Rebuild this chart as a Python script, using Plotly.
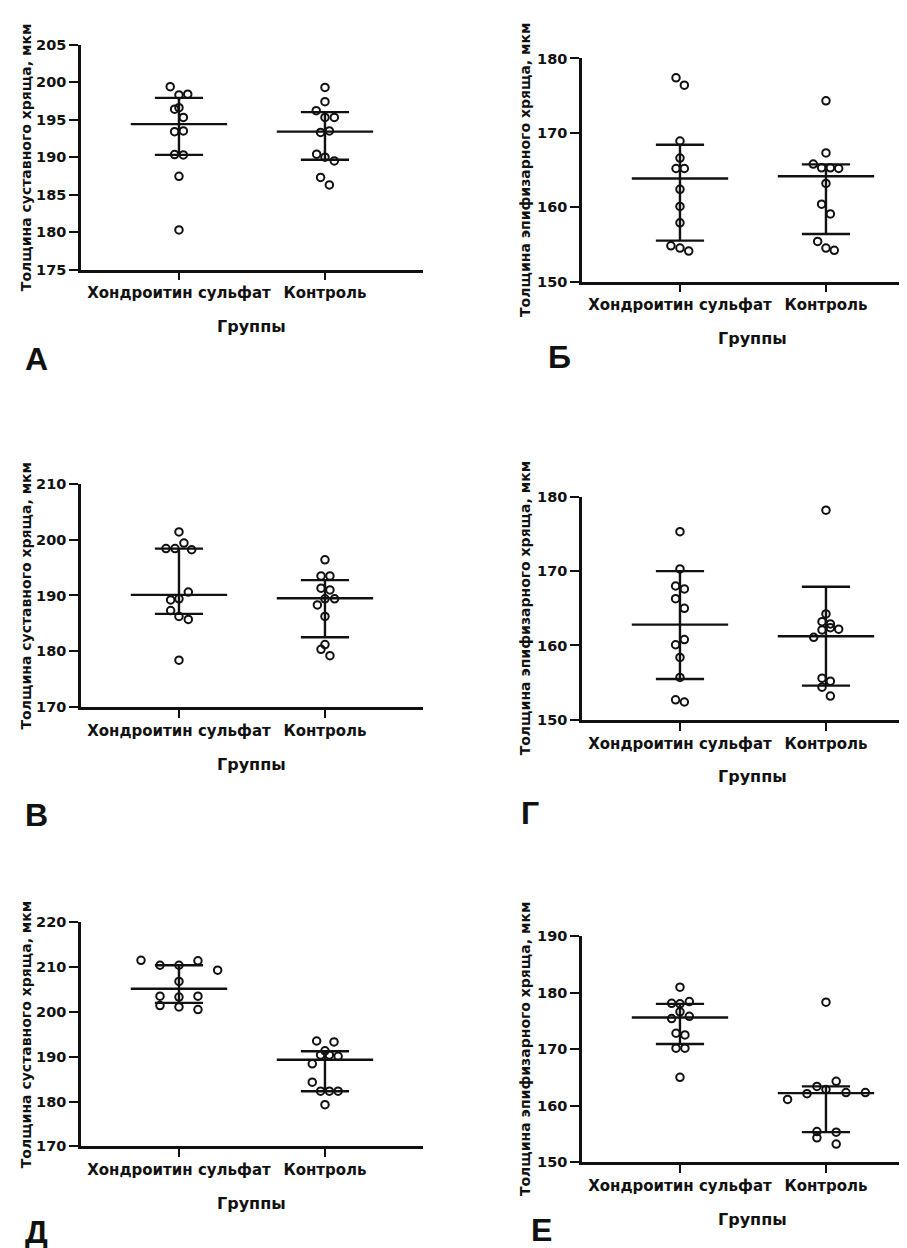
import plotly.graph_objects as go

W, H = 907, 1248

categories = ["Хондроитин сульфат", "Контроль"]
x_title = "Группы"
y_title_joint = "Толщина суставного хряща, мкм"
y_title_epi = "Толщина эпифизарного хряща, мкм"
panel_letters = ["А", "Б", "В", "Г", "Д", "Е"]

# ---- Panel А ----
a_chon = [199.4, 198.3, 198.4, 196.4, 196.6, 195.3, 193.4, 193.5, 190.35, 190.3, 187.45, 180.3]
a_ctrl = [199.3, 197.4, 196.2, 195.3, 195.3, 193.3, 193.5, 190.4, 190.0, 189.5, 187.3, 186.3]
a_median = [194.4, 193.4]
a_q1 = [190.3, 189.65]
a_q3 = [197.9, 196.0]
# ---- Panel Б ----
b_chon = [177.4, 176.4, 168.9, 166.6, 165.2, 165.2, 162.4, 160.1, 157.9, 154.8, 154.5, 154.1]
b_ctrl = [174.3, 167.3, 165.8, 165.3, 165.3, 165.2, 163.2, 160.4, 159.1, 155.4, 154.5, 154.2]
b_median = [163.85, 164.15]
b_q1 = [155.5, 156.4]
b_q3 = [168.4, 165.75]
# ---- Panel В ----
c_chon = [201.4, 198.4, 199.4, 198.4, 198.2, 190.6, 189.2, 189.4, 187.3, 186.25, 185.7, 178.4]
c_ctrl = [196.4, 193.5, 193.5, 191.3, 191.0, 189.4, 189.4, 188.3, 186.25, 180.35, 181.2, 179.2]
c_median = [190.1, 189.5]
c_q1 = [186.7, 182.5]
c_q3 = [198.4, 192.75]
# ---- Panel Г ----
d_chon = [175.3, 170.3, 168.0, 167.6, 166.3, 165.0, 160.8, 160.1, 158.4, 155.7, 152.7, 152.4]
d_ctrl = [178.2, 164.25, 163.2, 162.9, 162.1, 162.4, 162.2, 161.1, 155.6, 155.2, 154.4, 153.2]
d_median = [162.8, 161.25]
d_q1 = [155.5, 154.6]
d_q3 = [170.0, 167.9]
# ---- Panel Д ----
e_chon = [211.5, 210.4, 210.4, 211.4, 209.3, 206.8, 203.5, 203.3, 203.5, 201.4, 201.1, 200.5]
e_ctrl = [193.5, 193.3, 191.3, 190.4, 190.4, 190.1, 188.4, 184.3, 182.3, 182.3, 182.3, 179.3]
e_median = [205.15, 189.3]
e_q1 = [202.0, 182.3]
e_q3 = [210.4, 191.2]
# ---- Panel Е ----
f_chon = [180.95, 178.1, 178.0, 178.4, 176.6, 175.4, 175.8, 172.8, 172.5, 170.15, 170.15, 165.0]
f_ctrl = [178.3, 164.3, 163.4, 162.85, 162.1, 162.3, 162.3, 161.1, 155.4, 155.3, 154.3, 153.2]
f_median = [175.6, 162.2]
f_q1 = [170.9, 155.3]
f_q3 = [178.0, 163.4]

# horizontal scatter (beeswarm) offsets, in category units
a_chon_dx = [-0.06, 0, 0.06, -0.03, 0.0, 0.03, -0.03, 0.03, -0.03, 0.03, 0, 0]
a_ctrl_dx = [0, 0, -0.06, 0.0, 0.064, -0.03, 0.03, -0.057, 0, 0.064, -0.03, 0.03]
b_chon_dx = [-0.027, 0.03, 0, 0, -0.027, 0.03, 0, 0, 0, -0.062, 0, 0.06]
b_ctrl_dx = [0, 0, -0.087, -0.03, 0.03, 0.087, 0, -0.03, 0.03, -0.057, 0, 0.057]
c_chon_dx = [0, -0.027, 0.034, -0.089, 0.087, 0.064, -0.057, 0, -0.057, 0, 0.064, 0]
c_ctrl_dx = [0, -0.027, 0.034, -0.027, 0.034, 0, 0.066, -0.052, 0, -0.027, 0, 0.034]
d_chon_dx = [0, 0, -0.03, 0.03, -0.03, 0.03, 0.03, -0.03, 0, 0, -0.03, 0.03]
d_ctrl_dx = [0, 0, -0.027, 0.03, -0.027, 0.03, 0.087, -0.084, -0.027, 0.03, -0.027, 0.03]
e_chon_dx = [-0.26, -0.13, 0, 0.13, 0.265, 0, -0.13, 0, 0.13, -0.13, 0, 0.13]
e_ctrl_dx = [-0.057, 0.062, 0, -0.03, 0.03, 0.09, -0.087, -0.087, -0.03, 0.03, 0.09, 0]
f_chon_dx = [0, -0.057, 0, 0.064, 0, -0.057, 0.064, -0.027, 0.034, -0.027, 0.034, 0]
f_ctrl_dx = [0, 0.07, -0.062, 0, -0.13, 0.137, 0.27, -0.263, -0.062, 0.07, -0.062, 0.07]

panels = [
    dict(chon=a_chon, ctrl=a_ctrl, cdx=a_chon_dx, kdx=a_ctrl_dx, med=a_median, q1=a_q1, q3=a_q3,
         yr=[175, 205], dt=5, ytitle=y_title_joint),
    dict(chon=b_chon, ctrl=b_ctrl, cdx=b_chon_dx, kdx=b_ctrl_dx, med=b_median, q1=b_q1, q3=b_q3,
         yr=[150, 180], dt=10, ytitle=y_title_epi),
    dict(chon=c_chon, ctrl=c_ctrl, cdx=c_chon_dx, kdx=c_ctrl_dx, med=c_median, q1=c_q1, q3=c_q3,
         yr=[170, 210], dt=10, ytitle=y_title_joint),
    dict(chon=d_chon, ctrl=d_ctrl, cdx=d_chon_dx, kdx=d_ctrl_dx, med=d_median, q1=d_q1, q3=d_q3,
         yr=[150, 180], dt=10, ytitle=y_title_epi),
    dict(chon=e_chon, ctrl=e_ctrl, cdx=e_chon_dx, kdx=e_ctrl_dx, med=e_median, q1=e_q1, q3=e_q3,
         yr=[170, 220], dt=10, ytitle=y_title_joint),
    dict(chon=f_chon, ctrl=f_ctrl, cdx=f_chon_dx, kdx=f_ctrl_dx, med=f_median, q1=f_q1, q3=f_q3,
         yr=[150, 190], dt=10, ytitle=y_title_epi),
]

# layout geometry (pixels)
col_x = [(73, 415), (574, 907)]
row_y = [(29, 257), (43, 269), (474, 700), (487, 713), (918, 1145), (932, 1161)]
ytitle_x = [18, 517]
letter_pos = [(15, 347), (538, 345), (15, 809), (511, 807), (15, 1232), (521, 1230)]
PX_PER_CAT = 146.0
X0 = -0.671

FONT = "DejaVu Sans"
BLACK = "#111111"
MED_HW = 0.33
CAP_HW = 0.165

fig = go.Figure()
layout = dict(width=W, height=H, margin=dict(l=0, r=0, t=0, b=0),
              paper_bgcolor="white", plot_bgcolor="white", showlegend=False)
annotations = []

for i, p in enumerate(panels):
    col = i % 2
    n = i + 1
    xs = "x" if n == 1 else f"x{n}"
    ys = "y" if n == 1 else f"y{n}"
    xl, xr = col_x[col]
    yt, yb = row_y[i]
    x_hi = X0 + (xr - xl) / PX_PER_CAT

    # points
    for gi, (vals, dxs) in enumerate([(p["chon"], p["cdx"]), (p["ctrl"], p["kdx"])]):
        fig.add_trace(go.Scatter(
            x=[gi + d for d in dxs], y=vals, mode="markers", xaxis=xs, yaxis=ys,
            marker=dict(symbol="circle-open", size=7.5, color=BLACK, line=dict(width=2, color=BLACK)),
            hoverinfo="y"))
    # median + IQR
    lx, ly = [], []
    for gi in range(2):
        lx += [gi - MED_HW, gi + MED_HW, None]
        ly += [p["med"][gi], p["med"][gi], None]
        lx += [gi, gi, None]
        ly += [p["q1"][gi], p["q3"][gi], None]
        for q in (p["q1"][gi], p["q3"][gi]):
            lx += [gi - CAP_HW, gi + CAP_HW, None]
            ly += [q, q, None]
    fig.add_trace(go.Scatter(x=lx, y=ly, mode="lines", xaxis=xs, yaxis=ys,
                             line=dict(color=BLACK, width=2.4), hoverinfo="skip"))

    xkey = "xaxis" if n == 1 else f"xaxis{n}"
    ykey = "yaxis" if n == 1 else f"yaxis{n}"
    layout[xkey] = dict(domain=[xl / W, xr / W], range=[X0, x_hi], anchor=ys,
                        tickvals=[0, 1], ticktext=categories, ticks="outside", ticklen=8,
                        tickwidth=2, tickcolor=BLACK, showline=True, linewidth=2.5, linecolor=BLACK,
                        showgrid=False, zeroline=False,
                        tickfont=dict(family=FONT, size=15, color=BLACK, weight="bold"))
    layout[ykey] = dict(domain=[1 - yb / H, 1 - yt / H], range=p["yr"], anchor=xs,
                        dtick=p["dt"], tick0=0, ticks="outside", ticklen=9, tickwidth=2,
                        tickcolor=BLACK, showline=True, linewidth=2.5, linecolor=BLACK,
                        showgrid=False, zeroline=False,
                        tickfont=dict(family=FONT, size=14.5, color=BLACK, weight="bold"))
    # y title
    annotations.append(dict(text=p["ytitle"], textangle=-90, xref="paper", x=ytitle_x[col] / W,
                            xanchor="center", yref=f"{ys} domain", y=0.5, yanchor="middle",
                            showarrow=False,
                            font=dict(family=FONT, size=14, color=BLACK, weight="bold")))
    # x title (centred on the full category axis)
    annotations.append(dict(text=x_title, xref=xs, x=0.5, xanchor="center",
                            yref=f"{ys} domain", y=0, yanchor="middle", yshift=-57,
                            showarrow=False,
                            font=dict(family=FONT, size=16, color=BLACK, weight="bold")))
    # panel letter
    lxp, lyp = letter_pos[i]
    annotations.append(dict(text=panel_letters[i], xref="paper", x=lxp / W, xanchor="left",
                            yref="paper", y=1 - lyp / H, yanchor="middle", showarrow=False,
                            font=dict(family="Liberation Sans", size=32, color=BLACK, weight="bold")))

layout["annotations"] = annotations
fig.update_layout(**layout)
fig.write_html("out.html")
